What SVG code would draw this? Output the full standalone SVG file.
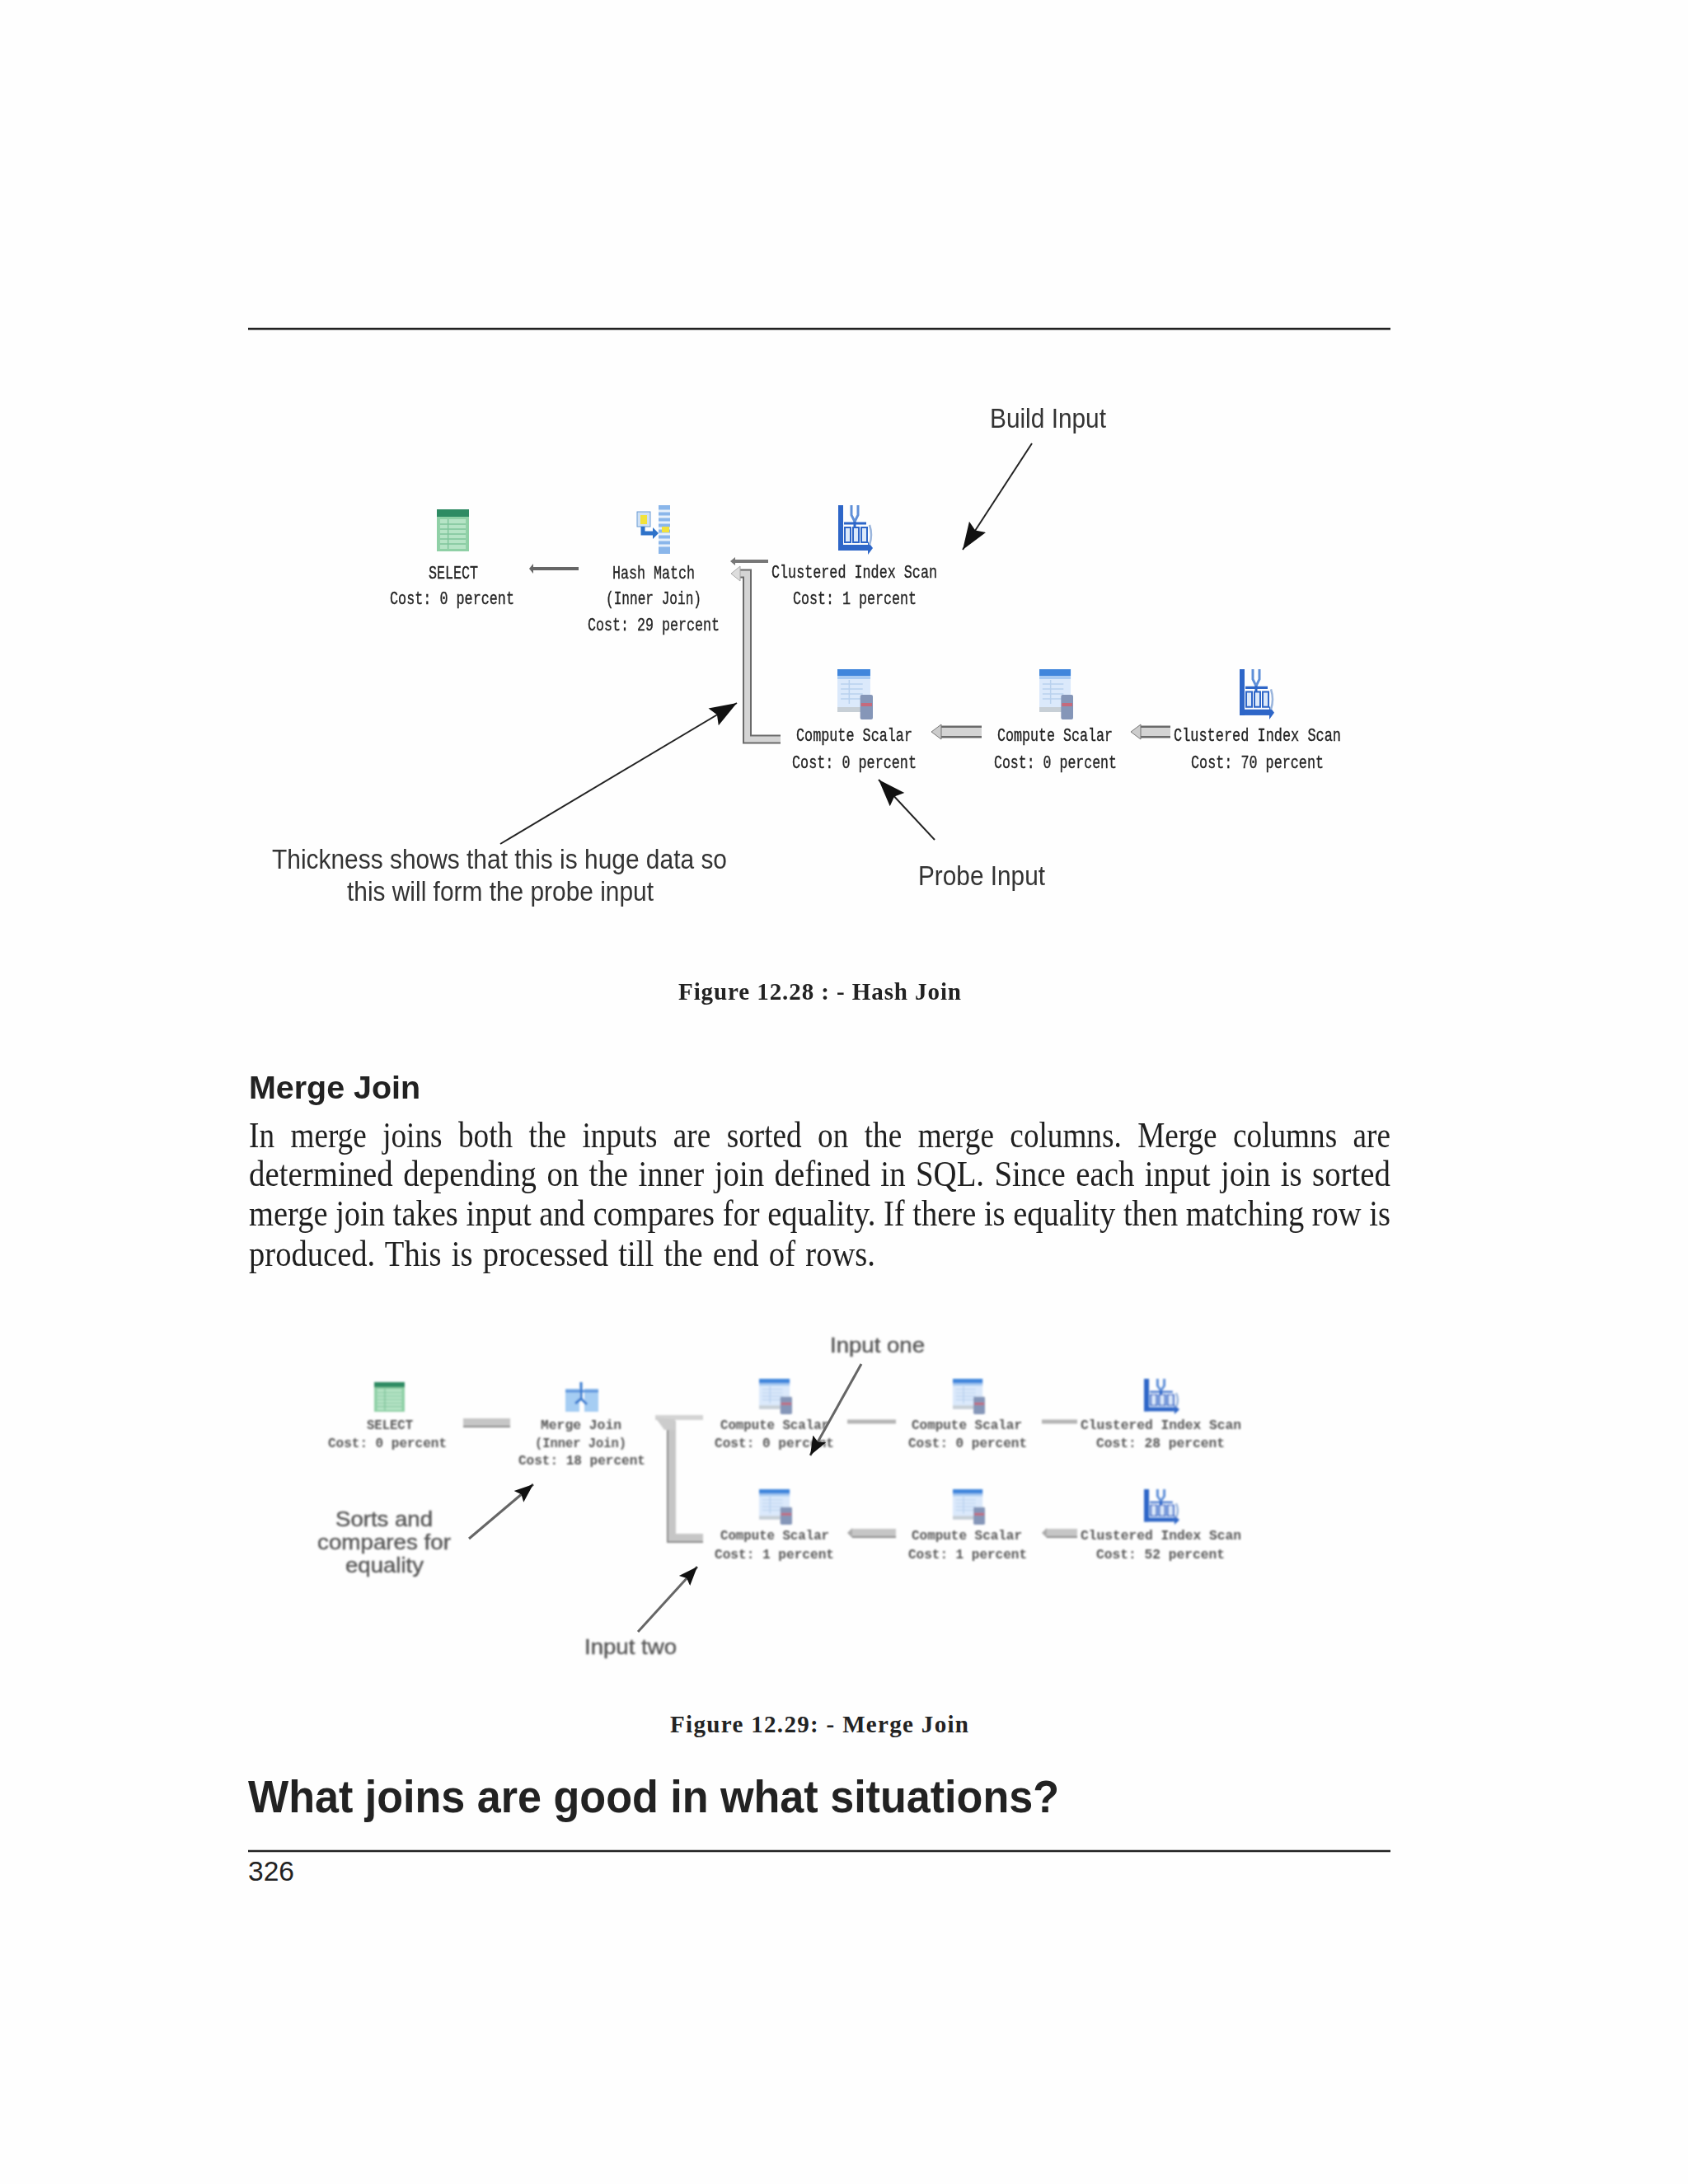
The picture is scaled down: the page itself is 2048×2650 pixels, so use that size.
<svg xmlns="http://www.w3.org/2000/svg" width="2048" height="2650" viewBox="0 0 2048 2650">
<style>
.rule{stroke:#222;stroke-width:2.4;fill:none}
.body{font-family:"Liberation Serif",serif;font-size:44px;fill:#1f1f1f}
.cap{font-family:"Liberation Serif",serif;font-size:29px;font-weight:bold;fill:#222}
.h{font-family:"Liberation Sans",sans-serif;font-weight:bold;fill:#222}
.n{font-family:"Liberation Sans",sans-serif;fill:#222}
.lab{font-family:"Liberation Sans",sans-serif;font-size:33px;fill:#333}
.lab2{font-family:"Liberation Sans",sans-serif;font-size:26px;fill:#555;stroke:#555;stroke-width:.4}
.m{font-family:"Liberation Mono",monospace;font-size:22px;fill:#222;stroke:#222;stroke-width:.35}
.m2{font-family:"Liberation Mono",monospace;font-size:17px;font-weight:bold;fill:#555}
.ptr{stroke:#222;stroke-width:2;fill:none;marker-end:url(#head)}
.ptr2{stroke:#666;stroke-width:3;fill:none;marker-end:url(#head2)}
.pipeO{stroke:#6a6a6a;fill:none}
.pipeI{stroke:#d4d4d4;fill:none}
.pipe2{stroke:#c6c6c6;fill:none}
</style>
<defs>
<filter id="b1" x="-5%" y="-5%" width="110%" height="110%"><feGaussianBlur stdDeviation="0.55"/></filter>
<filter id="b2" x="-5%" y="-5%" width="110%" height="110%"><feGaussianBlur stdDeviation="1"/></filter>
<marker id="head" markerUnits="userSpaceOnUse" markerWidth="34" markerHeight="26" refX="33" refY="13" orient="auto"><path d="M0 1L33 13L0 25L5 13Z" fill="#111"/></marker>
<marker id="head2" markerUnits="userSpaceOnUse" markerWidth="24" markerHeight="20" refX="23" refY="10" orient="auto"><path d="M0 1L23 10L0 19L4 10Z" fill="#111"/></marker>
<symbol id="iSelect" viewBox="0 0 40 51" preserveAspectRatio="none"><rect width="40" height="51" fill="#8fd0a6"/><rect width="40" height="9" fill="#2f8b63"/><rect x="4" y="12" width="32" height="36" fill="#b6e4c6"/><path d="M4 18H36M4 24H36M4 30H36M4 36H36M4 42H36M14 12V48" stroke="#7fc49b" stroke-width="1.5"/></symbol>
<symbol id="iHash" viewBox="0 0 41 59" preserveAspectRatio="none"><rect x="27" width="14" height="59" fill="#8ab6ea"/><path d="M27 7H41M27 14H41M27 21H41M27 28H41M27 35H41M27 42H41M27 49H41" stroke="#e6f0fb" stroke-width="3"/><rect x="31" y="26" width="9" height="7" fill="#f2e23a"/><rect x="1" y="8" width="16" height="18" fill="#cfe1f5" stroke="#6a9bd5"/><rect x="5" y="12" width="8" height="11" fill="#f2e23a"/><path d="M8 26V34H24" stroke="#2d72c9" stroke-width="5" fill="none"/><path d="M20 27L27 34L20 41Z" fill="#2d72c9"/></symbol>
<symbol id="iScan" viewBox="0 0 42 60" preserveAspectRatio="none"><rect x="0" y="0" width="6" height="55" fill="#2d66c8"/><rect x="0" y="48" width="36" height="7" fill="#2d66c8"/><path d="M36 44L42 52L36 60Z" fill="#2d66c8"/><path d="M16 0V12L20 20L24 12V0" stroke="#5f8fd8" stroke-width="3" fill="none"/><path d="M7 22H34M20 20V28" stroke="#2d66c8" stroke-width="3"/><rect x="8" y="27" width="7" height="18" fill="#dce9fa" stroke="#2d66c8" stroke-width="2"/><rect x="18" y="27" width="7" height="18" fill="#dce9fa" stroke="#2d66c8" stroke-width="2"/><rect x="28" y="27" width="7" height="18" fill="#dce9fa" stroke="#2d66c8" stroke-width="2"/><path d="M38 24Q42 36 38 48" stroke="#9ab5dc" stroke-width="2.5" fill="none"/></symbol>
<symbol id="iComp" viewBox="0 0 42 61" preserveAspectRatio="none"><rect width="39" height="52" fill="#dbe9fb"/><rect width="39" height="8" fill="#3f86dc"/><rect y="8" width="39" height="4" fill="#a9cbf2"/><rect y="46" width="39" height="6" fill="#c7cfd6"/><path d="M4 18H30M4 24H30M4 30H30M4 36H30M14 13V42" stroke="#b9d1ee" stroke-width="1.5"/><rect x="27" y="31" width="15" height="30" rx="2" fill="#8596b8"/><rect x="28" y="41" width="13" height="4" fill="#c56b7c"/></symbol>
<symbol id="iMerge" viewBox="0 0 40 36" preserveAspectRatio="none"><rect x="0" y="8" width="17" height="28" fill="#a5cdf3"/><rect x="23" y="8" width="17" height="28" fill="#a5cdf3"/><path d="M0 11H40" stroke="#5c94dc" stroke-width="3"/><path d="M19 0V20L26 27M19 20L12 26" stroke="#3a7bd0" stroke-width="3" fill="none"/></symbol>
</defs>
<rect width="2048" height="2650" fill="#fefefe"/>
<g id="page-rules"><path class="rule" d="M301 399H1687M301 2246H1687"/></g>

<g id="connectors-fig1" filter="url(#b1)">
<path d="M702 690H646" stroke="#666" stroke-width="4" fill="none"/><path d="M647 684L642 690L647 696Z" fill="#666"/>
<path d="M932 681H890" stroke="#777" stroke-width="4" fill="none"/><path d="M892 676L886 681L892 686Z" fill="#777"/>
<path class="pipeO" stroke-width="11" d="M947 897H906.500V696H896"/><path class="pipeI" stroke-width="7" d="M947 897H906.500V696H896"/><path d="M898 687L887 696L898 705Z" fill="#ddd" stroke="#aaa"/>
<path class="pipeO" stroke-width="15" d="M1191 888H1140"/><path class="pipeI" stroke-width="10" d="M1191 888H1140"/><path d="M1142 879L1130 888L1142 897Z" fill="#ccc" stroke="#777"/>
<path class="pipeO" stroke-width="15" d="M1420 888H1382"/><path class="pipeI" stroke-width="10" d="M1420 888H1382"/><path d="M1384 879L1372 888L1384 897Z" fill="#ccc" stroke="#777"/>
</g>
<g id="annotation-arrows-fig1">
<path class="ptr" d="M1252 538L1168 667"/>
<path class="ptr" d="M1134 1019L1066 946"/>
<path class="ptr" d="M607 1024L894 853"/>
</g>

<g id="n1-select" filter="url(#b1)"><use href="#iSelect" x="530" y="618" width="39" height="51"/>
<text class="m" x="520" y="702" textLength="60" lengthAdjust="spacingAndGlyphs">SELECT</text>
<text class="m" x="473" y="733" textLength="151" lengthAdjust="spacingAndGlyphs">Cost: 0 percent</text></g>
<g id="n1-hash" filter="url(#b1)"><use href="#iHash" x="772" y="613" width="41" height="59"/>
<text class="m" x="743" y="702" textLength="100" lengthAdjust="spacingAndGlyphs">Hash Match</text>
<text class="m" x="735" y="733" textLength="116" lengthAdjust="spacingAndGlyphs">(Inner Join)</text>
<text class="m" x="713" y="765" textLength="160" lengthAdjust="spacingAndGlyphs">Cost: 29 percent</text></g>
<g id="n1-scan-a" filter="url(#b1)"><use href="#iScan" x="1017" y="613" width="42" height="60"/>
<text class="m" x="936" y="701" textLength="201" lengthAdjust="spacingAndGlyphs">Clustered Index Scan</text>
<text class="m" x="962" y="733" textLength="150" lengthAdjust="spacingAndGlyphs">Cost: 1 percent</text></g>
<g id="n1-comp-a" filter="url(#b1)"><use href="#iComp" x="1016" y="812" width="43" height="61"/>
<text class="m" x="966" y="899" textLength="141" lengthAdjust="spacingAndGlyphs">Compute Scalar</text>
<text class="m" x="961" y="932" textLength="151" lengthAdjust="spacingAndGlyphs">Cost: 0 percent</text></g>
<g id="n1-comp-b" filter="url(#b1)"><use href="#iComp" x="1261" y="812" width="41" height="61"/>
<text class="m" x="1210" y="899" textLength="140" lengthAdjust="spacingAndGlyphs">Compute Scalar</text>
<text class="m" x="1206" y="932" textLength="149" lengthAdjust="spacingAndGlyphs">Cost: 0 percent</text></g>
<g id="n1-scan-b" filter="url(#b1)"><use href="#iScan" x="1504" y="812" width="42" height="61"/>
<text class="m" x="1424" y="899" textLength="203" lengthAdjust="spacingAndGlyphs">Clustered Index Scan</text>
<text class="m" x="1445" y="932" textLength="161" lengthAdjust="spacingAndGlyphs">Cost: 70 percent</text></g>

<g id="labels-fig1">
<text class="lab" x="1201" y="519" textLength="141" lengthAdjust="spacingAndGlyphs">Build Input</text>
<text class="lab" x="330" y="1054" textLength="552" lengthAdjust="spacingAndGlyphs">Thickness shows that this is huge data so</text>
<text class="lab" x="421" y="1093" textLength="372" lengthAdjust="spacingAndGlyphs">this will form the probe input</text>
<text class="lab" x="1114" y="1074" textLength="154" lengthAdjust="spacingAndGlyphs">Probe Input</text>
</g>
<text class="cap" x="823" y="1213" textLength="343">Figure 12.28 : - Hash Join</text>

<text class="h" x="302" y="1333" font-size="39" textLength="208" lengthAdjust="spacingAndGlyphs">Merge Join</text>
<text class="body" x="302" y="1392" textLength="1385" lengthAdjust="spacingAndGlyphs" word-spacing="12">In merge joins both the inputs are sorted on the merge columns. Merge columns are</text>
<text class="body" x="302" y="1439" textLength="1385" lengthAdjust="spacingAndGlyphs" word-spacing="3">determined depending on the inner join defined in SQL. Since each input join is sorted</text>
<text class="body" x="302" y="1487" textLength="1385" lengthAdjust="spacingAndGlyphs">merge join takes input and compares for equality. If there is equality then matching row is</text>
<text class="body" x="302" y="1536" textLength="760" lengthAdjust="spacingAndGlyphs" word-spacing="3">produced. This is processed till the end of rows.</text>

<g id="connectors-fig2" filter="url(#b2)">
<path class="pipe2" stroke-width="10" d="M619 1726H562"/><path d="M562 1731H619" stroke="#888" stroke-width="2"/>
<path class="pipeI" stroke-width="6" d="M853 1720H795"/>
<path class="pipe2" stroke-width="10" d="M853 1866H815V1724"/><path d="M853 1871H810V1724" stroke="#888" stroke-width="2" fill="none"/>
<path d="M795 1720L819 1722V1735H806Z" fill="#ccc"/>
<path d="M1087 1725H1028" stroke="#b4b4b4" stroke-width="5" fill="none"/>
<path d="M1307 1725H1264" stroke="#b4b4b4" stroke-width="5" fill="none"/>
<path class="pipe2" stroke-width="10" d="M1087 1860H1034"/><path d="M1034 1865H1087" stroke="#888" stroke-width="2"/><path d="M1034 1854L1028 1860L1034 1866Z" fill="#aaa"/>
<path class="pipe2" stroke-width="10" d="M1307 1860H1270"/><path d="M1270 1865H1307" stroke="#888" stroke-width="2"/><path d="M1270 1854L1264 1860L1270 1866Z" fill="#aaa"/>
</g>

<g id="n2-select" filter="url(#b2)"><use href="#iSelect" x="454" y="1677" width="37" height="36"/>
<text class="m2" x="445" y="1734" textLength="56" lengthAdjust="spacingAndGlyphs">SELECT</text>
<text class="m2" x="398" y="1756" textLength="144" lengthAdjust="spacingAndGlyphs">Cost: 0 percent</text></g>
<g id="n2-merge" filter="url(#b2)"><use href="#iMerge" x="686" y="1677" width="40" height="36"/>
<text class="m2" x="656" y="1734" textLength="98" lengthAdjust="spacingAndGlyphs">Merge Join</text>
<text class="m2" x="649" y="1756" textLength="111" lengthAdjust="spacingAndGlyphs">(Inner Join)</text>
<text class="m2" x="629" y="1777" textLength="154" lengthAdjust="spacingAndGlyphs">Cost: 18 percent</text></g>
<g id="n2-comp-a" filter="url(#b2)"><use href="#iComp" x="921" y="1673" width="40" height="43"/>
<text class="m2" x="874" y="1734" textLength="132" lengthAdjust="spacingAndGlyphs">Compute Scalar</text>
<text class="m2" x="867" y="1756" textLength="145" lengthAdjust="spacingAndGlyphs">Cost: 0 percent</text></g>
<g id="n2-comp-b" filter="url(#b2)"><use href="#iComp" x="1156" y="1673" width="39" height="43"/>
<text class="m2" x="1106" y="1734" textLength="134" lengthAdjust="spacingAndGlyphs">Compute Scalar</text>
<text class="m2" x="1102" y="1756" textLength="144" lengthAdjust="spacingAndGlyphs">Cost: 0 percent</text></g>
<g id="n2-scan-a" filter="url(#b2)"><use href="#iScan" x="1388" y="1673" width="43" height="43"/>
<text class="m2" x="1311" y="1734" textLength="195" lengthAdjust="spacingAndGlyphs">Clustered Index Scan</text>
<text class="m2" x="1330" y="1756" textLength="156" lengthAdjust="spacingAndGlyphs">Cost: 28 percent</text></g>
<g id="n2-comp-c" filter="url(#b2)"><use href="#iComp" x="921" y="1807" width="40" height="43"/>
<text class="m2" x="874" y="1868" textLength="132" lengthAdjust="spacingAndGlyphs">Compute Scalar</text>
<text class="m2" x="867" y="1891" textLength="145" lengthAdjust="spacingAndGlyphs">Cost: 1 percent</text></g>
<g id="n2-comp-d" filter="url(#b2)"><use href="#iComp" x="1156" y="1807" width="39" height="43"/>
<text class="m2" x="1106" y="1868" textLength="134" lengthAdjust="spacingAndGlyphs">Compute Scalar</text>
<text class="m2" x="1102" y="1891" textLength="144" lengthAdjust="spacingAndGlyphs">Cost: 1 percent</text></g>
<g id="n2-scan-b" filter="url(#b2)"><use href="#iScan" x="1388" y="1807" width="43" height="43"/>
<text class="m2" x="1311" y="1868" textLength="195" lengthAdjust="spacingAndGlyphs">Clustered Index Scan</text>
<text class="m2" x="1330" y="1891" textLength="156" lengthAdjust="spacingAndGlyphs">Cost: 52 percent</text></g>

<g id="annotation-arrows-fig2">
<path class="ptr2" d="M1045 1655L983 1766"/>
<path class="ptr2" d="M569 1867L647 1801"/>
<path class="ptr2" d="M774 1980L846 1901"/>
</g>
<g id="labels-fig2" filter="url(#b2)">
<text class="lab2" x="1007" y="1641" textLength="115" lengthAdjust="spacingAndGlyphs">Input one</text>
<text class="lab2" x="407" y="1852" textLength="118" lengthAdjust="spacingAndGlyphs">Sorts and</text>
<text class="lab2" x="385" y="1880" textLength="162" lengthAdjust="spacingAndGlyphs">compares for</text>
<text class="lab2" x="419" y="1908" textLength="95" lengthAdjust="spacingAndGlyphs">equality</text>
<text class="lab2" x="709" y="2007" textLength="112" lengthAdjust="spacingAndGlyphs">Input two</text>
</g>
<text class="cap" x="813" y="2102" textLength="362">Figure  12.29: - Merge Join</text>
<text class="h" x="301" y="2199" font-size="55" textLength="984" lengthAdjust="spacingAndGlyphs">What joins are good in what situations?</text>
<text class="n" x="301" y="2282" font-size="33" textLength="56" lengthAdjust="spacingAndGlyphs">326</text>
</svg>
